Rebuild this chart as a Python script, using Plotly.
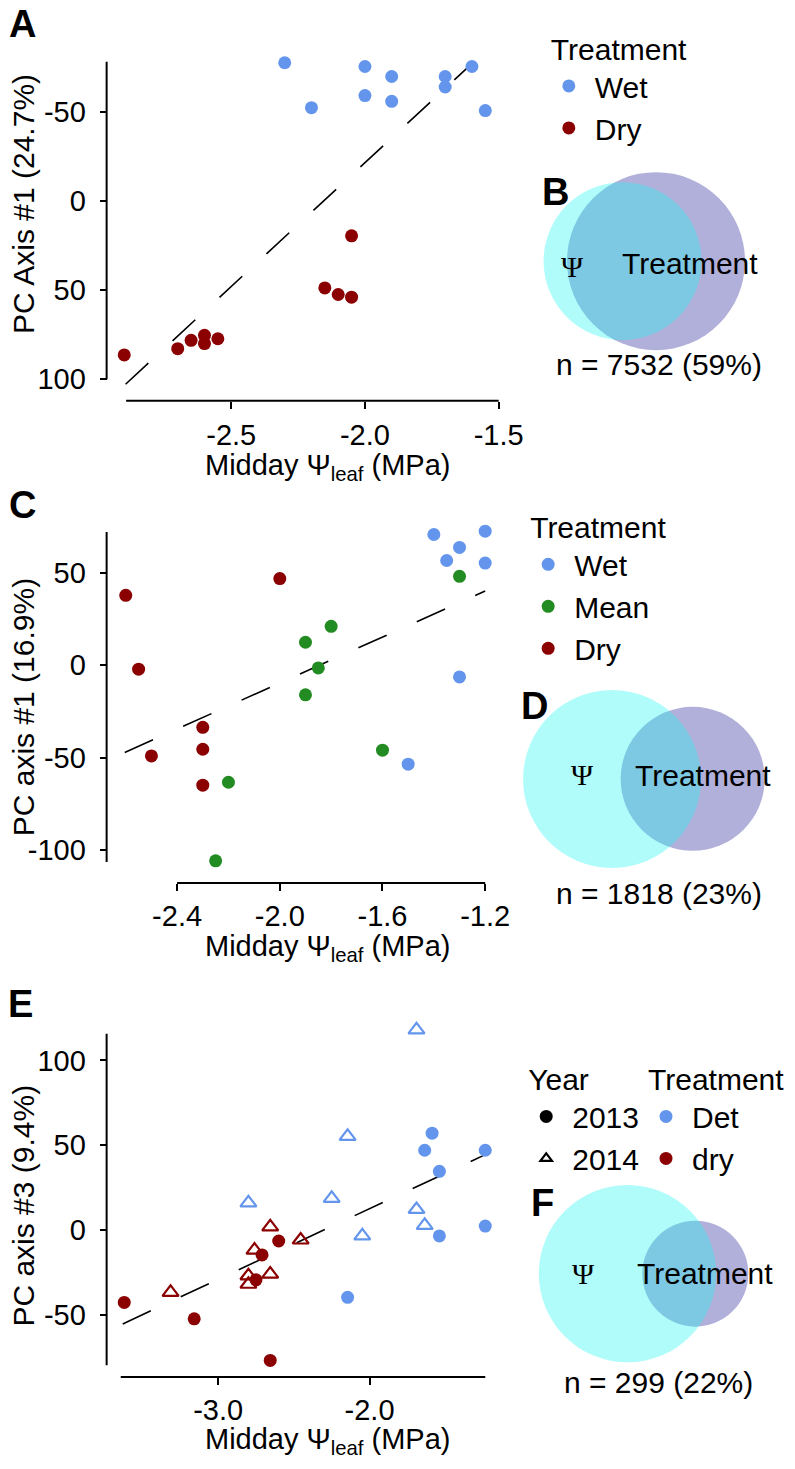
import plotly.graph_objects as go

# ---- data ----
# panel A
a_wet_x = [-2.3, -2.2, -2.0, -2.0, -1.9, -1.9, -1.7, -1.7, -1.6, -1.55]
a_wet_y = [-77.4, -52.2, -75.3, -59.0, -69.7, -55.8, -69.7, -63.8, -75.3, -50.6]
a_dry_x = [-2.9, -2.7, -2.65, -2.6, -2.6, -2.55, -2.15, -2.1, -2.05, -2.05]
a_dry_y = [86.4, 82.9, 78.2, 75.4, 80.0, 77.3, 48.8, 52.5, 54.0, 19.6]
a_fit = (-299.0, -138.8)          # intercept, slope
a_fit_x = [-2.895, -1.592]

# panel C
c_wet_x = [-1.4, -1.2, -1.3, -1.35, -1.2, -1.3, -1.5]
c_wet_y = [70.9, 72.7, 63.9, 56.8, 55.4, -6.3, -53.6]
c_mean_x = [-1.3, -1.8, -1.9, -1.85, -1.9, -1.6, -2.2, -2.25]
c_mean_y = [48.2, 21.1, 12.5, -1.4, -16.0, -46.0, -63.4, -106.0]
c_dry_x = [-2.0, -2.6, -2.55, -2.5, -2.3, -2.3, -2.3]
c_dry_y = [47.0, 37.9, -2.1, -49.1, -33.6, -45.5, -65.0]
c_fit = (115.0, 62.3)
c_fit_x = [-2.604, -1.2]

# panel E
e13_det_x = [-1.587, -1.636, -1.236, -1.539, -1.236, -1.539, -2.145]
e13_det_y = [57.1, 47.0, 47.0, 34.6, 2.3, -3.5, -39.7]
e14_det_x = [-1.69, -2.145, -2.80, -2.25, -1.69, -1.636, -2.048]
e14_det_y = [118.0, 55.2, 16.0, 18.6, 12.1, 2.7, -3.5]
e13_dry_x = [-2.60, -2.71, -2.75, -3.62, -3.158, -2.656]
e13_dry_y = [-6.5, -14.7, -29.4, -42.7, -52.4, -76.9]
e14_dry_x = [-2.656, -2.455, -2.76, -2.656, -2.80, -2.80, -3.314]
e14_dry_y = [1.8, -5.9, -11.9, -26.0, -27.0, -32.0, -36.8]
e_fit = (95.95, 41.69)
e_fit_x = [-3.63, -1.25]

# venn labels
venn_n = ["n = 7532 (59%)", "n = 1818 (23%)", "n = 299 (22%)"]

# tick labels
a_xticks = [-2.5, -2.0, -1.5]
a_xtext = ["-2.5", "-2.0", "-1.5"]
a_yticks = [-50, 0, 50, 100]
a_ytext = ["-50", "0", "50", "100"]
c_xticks = [-2.4, -2.0, -1.6, -1.2]
c_xtext = ["-2.4", "-2.0", "-1.6", "-1.2"]
c_yticks = [50, 0, -50, -100]
c_ytext = ["50", "0", "-50", "-100"]
e_xticks = [-3.0, -2.0]
e_xtext = ["-3.0", "-2.0"]
e_yticks = [100, 50, 0, -50]
e_ytext = ["100", "50", "0", "-50"]

BLUE = "#6495ED"
RED = "#8B0000"
GREEN = "#228B22"
FONT = "Liberation Sans"
# the page body keeps an 8px margin, so the figure sits at (8, 8)
OFF = 8
W, H = 795 - 2 * OFF, 1469 - 2 * OFF


def px(x):
    return (x - OFF) / W


def py(y):
    return 1 - (y - OFF) / H


fig = go.Figure()


def dots(x, y, color, name, xa, ya, legend, show=True, symbol="circle", size=None):
    open_ = symbol.endswith("open")
    if size is None:
        size = 14 if open_ else 13
    fig.add_trace(go.Scatter(
        x=x, y=y, mode="markers", name="\u2009" + name, xaxis=xa, yaxis=ya,
        legend=legend, showlegend=show, cliponaxis=False,
        marker=dict(color=color, size=size, symbol=symbol,
                    line=dict(width=2.2 if open_ else 0, color=color))))


def fit_line(fit, xs, xa, ya):
    b, m = fit
    fig.add_trace(go.Scatter(
        x=xs, y=[b + m * x for x in xs], mode="lines", xaxis=xa, yaxis=ya,
        showlegend=False, line=dict(color="black", width=1.6, dash="31px,33px")))


# panel A
fit_line(a_fit, a_fit_x, "x", "y")
dots(a_wet_x, a_wet_y, BLUE, "Wet", "x", "y", "legend")
dots(a_dry_x, a_dry_y, RED, "Dry", "x", "y", "legend")

# panel C
fit_line(c_fit, c_fit_x, "x2", "y2")
dots(c_wet_x, c_wet_y, BLUE, "Wet", "x2", "y2", "legend2")
dots(c_mean_x, c_mean_y, GREEN, "Mean", "x2", "y2", "legend2")
dots(c_dry_x, c_dry_y, RED, "Dry", "x2", "y2", "legend2")

# panel E
fit_line(e_fit, e_fit_x, "x3", "y3")
dots(e13_det_x, e13_det_y, BLUE, "Det", "x3", "y3", "legend3", show=False)
dots(e13_dry_x, e13_dry_y, RED, "dry", "x3", "y3", "legend3", show=False)
dots(e14_det_x, e14_det_y, BLUE, "Det", "x3", "y3", "legend3", show=False, symbol="triangle-up-open")
dots(e14_dry_x, e14_dry_y, RED, "dry", "x3", "y3", "legend3", show=False, symbol="triangle-up-open")
# legend-only entries
dots([None], [None], "black", "2013", "x3", "y3", "legend3")
dots([None], [None], "black", "2014", "x3", "y3", "legend3", symbol="triangle-up-open", size=10)
dots([None], [None], BLUE, "Det", "x3", "y3", "legend4")
dots([None], [None], RED, "dry", "x3", "y3", "legend4")

tickfont = dict(family=FONT, size=29, color="black")


def axis(domain_px, rng, pos, tickvals, ticktext, horizontal, standoff):
    if horizontal:
        dom = [px(domain_px[0]), px(domain_px[1])]
        position = py(pos)
    else:
        dom = [py(domain_px[1]), py(domain_px[0])]
        position = px(pos)
    return dict(domain=dom, range=rng, anchor="free", position=position,
                showgrid=False, zeroline=False, showline=False,
                ticks="outside", ticklen=7, tickwidth=2, tickcolor="black",
                ticklabelstandoff=standoff,
                tickvals=tickvals, ticktext=ticktext, tickfont=tickfont)


layout_axes = dict(
    xaxis=axis([110, 520], [-2.9596, -1.4522], 402, a_xticks, a_xtext, True, 2),
    yaxis=axis([55, 392], [106.42, -81.84], 108.3, a_yticks, a_ytext, False, 8),
    xaxis2=axis([110, 520], [-2.668, -1.0977], 886, c_xticks, c_xtext, True, 0),
    yaxis2=axis([525, 875], [-112.05, 77.01], 108.3, c_yticks, c_ytext, False, 8),
    xaxis3=axis([110, 520], [-3.7253, -1.063], 1381.7, e_xticks, e_xtext, True, 0),
    yaxis3=axis([1020, 1378], [-84.49, 125.85], 108.3, e_yticks, e_ytext, False, 8),
)

shapes = []


def xline(xa, x0, x1, ypx):
    shapes.append(dict(type="line", xref=xa, yref="paper", x0=x0, x1=x1,
                       y0=py(ypx), y1=py(ypx), line=dict(color="black", width=2)))


def yline(ya, y0, y1, xpx):
    shapes.append(dict(type="line", xref="paper", yref=ya, x0=px(xpx), x1=px(xpx),
                       y0=y0, y1=y1, line=dict(color="black", width=2)))


xline("x", -2.893, -1.5, 402)
yline("y", -78, 100, 108.3)
xline("x2", -2.4, -1.2, 886)
yline("y2", -106.6, 72.3, 108.3)
xline("x3", -3.643, -1.236, 1381.7)
yline("y3", -79.8, 115.7, 108.3)


def circle(cx, cy, r, color):
    shapes.append(dict(type="circle", xref="paper", yref="paper",
                       xsizemode="pixel", ysizemode="pixel",
                       xanchor=px(cx), yanchor=py(cy),
                       x0=-r, x1=r, y0=-r, y1=r,
                       fillcolor=color, line=dict(width=0)))


PURPLE = "#B1B0DA"
CYAN = "rgba(30,245,240,0.35)"
# B
circle(667, 262, 89, PURPLE)
circle(633, 262, 79, CYAN)
# D
circle(704.3, 781.5, 72, PURPLE)
circle(622.3, 781.7, 89, CYAN)
# F
circle(707, 1278, 53, PURPLE)
circle(638, 1278, 88.7, CYAN)

annotations = []


def label(text, x, y, size=30, family=FONT, angle=0, bold=False):
    if bold:
        text = "<b>%s</b>" % text
    annotations.append(dict(text=text, x=px(x), y=py(y), xref="paper", yref="paper",
                            showarrow=False, xanchor="center", yanchor="middle",
                            textangle=angle,
                            font=dict(family=family, size=size, color="black")))


# panel letters
label("A", 23, 24, size=38, bold=True)
label("C", 23, 507, size=38, bold=True)
label("E", 21, 1007, size=38, bold=True)
label("B", 565, 193, size=38, bold=True)
label("D", 543, 708, size=38, bold=True)
label("F", 552, 1207, size=38, bold=True)

# axis titles
xt = "Midday Ψ<sub>leaf</sub> (MPa)"
label(xt, 333, 469, size=29)
label(xt, 333, 951, size=29)
label(xt, 333, 1446, size=29)
label("PC Axis #1 (24.7%)", 24, 205, angle=-90)
label("PC axis #1 (16.9%)", 24, 710, angle=-90)
label("PC axis #3 (9.4%)", 24, 1210, angle=-90)

# venn texts
label("Ψ", 582, 267, family="Liberation Serif")
label("Treatment", 702, 264)
label(venn_n[0], 670, 366)
label("Ψ", 592, 777, family="Liberation Serif")
label("Treatment", 715, 778)
label(venn_n[1], 670, 897)
label("Ψ", 593, 1278, family="Liberation Serif")
label("Treatment", 717, 1278)
label(venn_n[2], 670, 1387)

legfont = dict(family=FONT, size=30, color="black")


def legend(x, y, title):
    return dict(x=px(x), y=py(y), xanchor="left", yanchor="top",
                bgcolor="rgba(0,0,0,0)", borderwidth=0, itemsizing="trace",
                font=legfont, title=dict(text=title, font=legfont),
                tracegroupgap=0)


fig.update_layout(
    width=W, height=H,
    margin=dict(l=0, r=0, t=0, b=0),
    paper_bgcolor="white", plot_bgcolor="white",
    shapes=shapes, annotations=annotations,
    legend=legend(558, 21, "Treatment"),
    legend2=legend(537, 501, "Treatment"),
    legend3=legend(535, 1055, "Year"),
    legend4=legend(657, 1055, "Treatment"),
    **layout_axes,
)

fig.write_html("out.html")
